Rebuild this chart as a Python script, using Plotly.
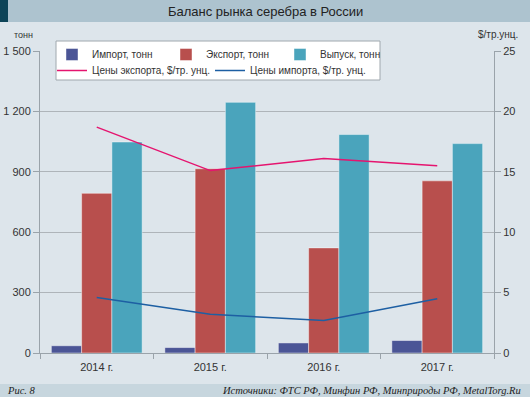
import plotly.graph_objects as go

years = ["2014 г.", "2015 г.", "2016 г.", "2017 г."]
import_t = [36, 27, 50, 62]
export_t = [793, 915, 522, 855]
output_t = [1048, 1245, 1085, 1040]
export_price = [18.7, 15.1, 16.1, 15.5]
import_price = [4.6, 3.2, 2.7, 4.5]

left_ticks = [0, 300, 600, 900, 1200, 1500]
left_labels = ["0", "300", "600", "900", "1 200", "1 500"]
right_ticks = [0, 5, 10, 15, 20, 25]

FONT = "Liberation Sans, Arial, sans-serif"
SERIF = "Liberation Serif, Times New Roman, serif"

# figure geometry helpers (pixel -> paper coordinates)
L, R, T, B = 40, 36, 51, 44
W, H = 530, 397
PW, PH = W - L - R, H - T - B


def px(x):
    return (x - L) / PW


def py(y):
    return (H - B - y) / PH


fig = go.Figure()
line_edge = dict(color="rgba(255,255,255,0.55)", width=0.8)
fig.add_trace(go.Bar(x=years, y=import_t, name="Импорт, тонн", legend="legend",
                     marker=dict(color="#4b5596", line=line_edge)))
fig.add_trace(go.Bar(x=years, y=export_t, name="Экспорт, тонн", legend="legend",
                     marker=dict(color="#b84f4d", line=line_edge)))
fig.add_trace(go.Bar(x=years, y=output_t, name="Выпуск, тонн", legend="legend",
                     marker=dict(color="#4aa4bc", line=line_edge)))
fig.add_trace(go.Scatter(x=years, y=export_price, yaxis="y2", mode="lines",
                         name="Цены экспорта, $/тр. унц.", legend="legend2",
                         line=dict(color="#e5146f", width=1.5)))
fig.add_trace(go.Scatter(x=years, y=import_price, yaxis="y2", mode="lines",
                         name="Цены импорта, $/тр. унц.", legend="legend2",
                         line=dict(color="#1d5fa3", width=1.5)))

shapes = [
    dict(type="rect", xref="paper", yref="paper", x0=px(0), x1=px(W),
         y0=py(22), y1=py(0), fillcolor="#adc3cf", line_width=0, layer="below"),
    dict(type="rect", xref="paper", yref="paper", x0=px(0), x1=px(8),
         y0=py(22), y1=py(0), fillcolor="#0d4458", line_width=0, layer="below"),
    dict(type="rect", xref="paper", yref="paper", x0=px(0), x1=px(W),
         y0=py(382), y1=py(24), fillcolor="#dde5eb", line_width=0, layer="below"),
    dict(type="rect", xref="paper", yref="paper", x0=px(0), x1=px(W),
         y0=py(H), y1=py(384), fillcolor="#c7d6de", line_width=0, layer="below"),
    # legend frame
    dict(type="rect", xref="paper", yref="paper", x0=px(56), x1=px(380),
         y0=py(80), y1=py(41), fillcolor="#ffffff",
         line=dict(color="#a0a8ae", width=1), layer="above"),
]

annotations = [
    dict(text="Баланс рынка серебра в России", xref="paper", yref="paper",
         x=px(265), y=py(11), showarrow=False, xanchor="center", yanchor="middle",
         font=dict(family=FONT, size=13, color="#222222")),
    dict(text="тонн", xref="paper", yref="paper", x=px(12), y=py(35),
         showarrow=False, xanchor="left", yanchor="middle",
         font=dict(family=FONT, size=9, color="#333333")),
    dict(text="$/тр.унц.", xref="paper", yref="paper", x=px(520), y=py(35),
         showarrow=False, xanchor="right", yanchor="middle",
         font=dict(family=FONT, size=10, color="#333333")),
    dict(text="<i>Рис. 8</i>", xref="paper", yref="paper", x=px(5), y=py(390),
         showarrow=False, xanchor="left", yanchor="middle",
         font=dict(family=SERIF, size=10.5, color="#222222")),
    dict(text="<i>Источники: ФТС РФ, Минфин РФ, Минприроды РФ, MetalTorg.Ru</i>",
         xref="paper", yref="paper", x=px(523), y=py(390),
         showarrow=False, xanchor="right", yanchor="middle",
         font=dict(family=SERIF, size=10.5, color="#222222")),
]

legend_common = dict(orientation="h", xanchor="left", yanchor="top",
                     bgcolor="rgba(0,0,0,0)", borderwidth=0,
                     font=dict(family=FONT, size=10, color="#333333"),
                     entrywidthmode="pixels", traceorder="normal", itemwidth=30)

fig.update_layout(
    width=W, height=H,
    margin=dict(l=L, r=R, t=T, b=B, autoexpand=False),
    paper_bgcolor="#dde5eb", plot_bgcolor="#eef2f5",
    font=dict(family=FONT, size=11, color="#333333"),
    barmode="group", bargap=0.2, bargroupgap=0,
    showlegend=True,
    legend=dict(x=px(52), y=py(40), entrywidth=69, **legend_common),
    legend2=dict(x=px(52), y=py(56), entrywidth=113, **legend_common),
    xaxis=dict(showgrid=False, showline=True, linecolor="#9aa3aa", linewidth=1,
               ticks="outside", tickson="boundaries", ticklen=5, tickcolor="#9aa3aa",
               ticklabelstandoff=4,
               tickfont=dict(size=11, color="#333333"), zeroline=False),
    yaxis=dict(range=[0, 1500], tickvals=left_ticks, ticktext=left_labels,
               showgrid=True, gridcolor="#aeb4b9", gridwidth=1,
               showline=True, linecolor="#9aa3aa", ticks="outside", ticklen=6,
               tickcolor="#9aa3aa", zeroline=False, tickfont=dict(size=11, color="#333333")),
    yaxis2=dict(range=[0, 25], tickvals=right_ticks, overlaying="y", side="right",
                showgrid=False, showline=True, linecolor="#9aa3aa", ticks="outside",
                ticklen=6, tickcolor="#9aa3aa", zeroline=False,
                tickfont=dict(size=11, color="#333333")),
    shapes=shapes, annotations=annotations,
)

fig.write_html("out.html", config={"displayModeBar": False},
               post_script="document.body.style.margin='0px';document.body.style.overflow='hidden';")
